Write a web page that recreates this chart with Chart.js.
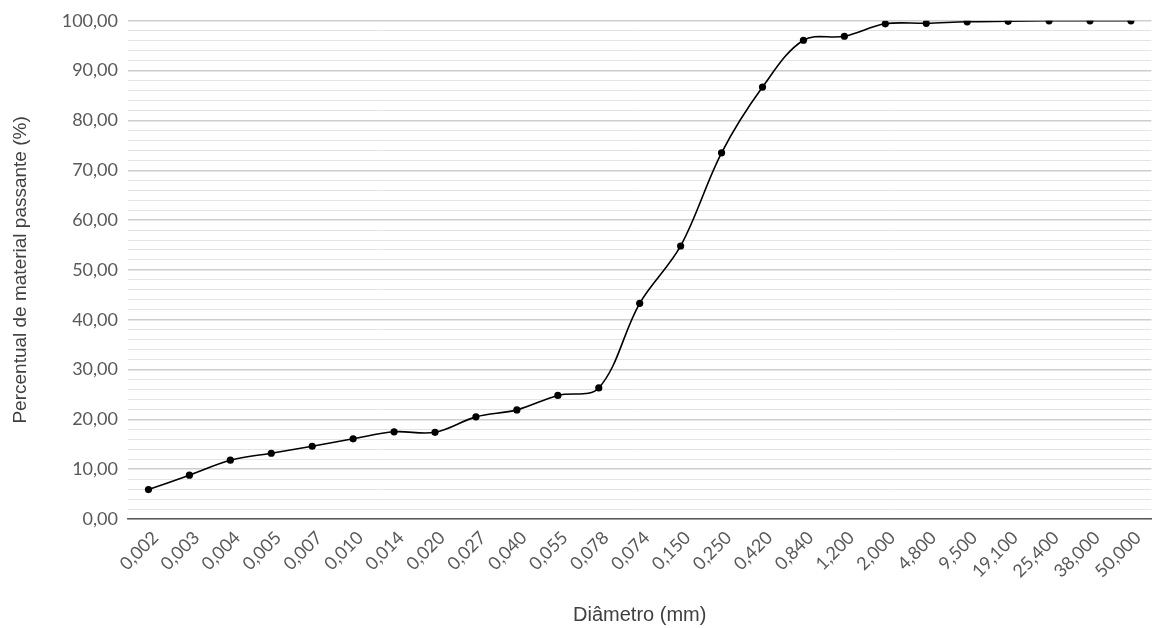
<!DOCTYPE html>
<html>
<head>
<meta charset="utf-8">
<script src="https://cdn.jsdelivr.net/npm/chart.js@4/dist/chart.umd.min.js"></script>
<style>
  html, body { margin: 0; padding: 0; background: #ffffff; }
  #wrap { width: 1155px; height: 628px; position: relative; }
</style>
</head>
<body>
<div id="wrap"><canvas id="curva"></canvas></div>
<script>
// Curva granulométrica: diâmetro da peneira x percentual passante
const diametros = [
  '0,002', '0,003', '0,004', '0,005', '0,007', '0,010', '0,014', '0,020',
  '0,027', '0,040', '0,055', '0,078', '0,074', '0,150', '0,250', '0,420',
  '0,840', '1,200', '2,000', '4,800', '9,500', '19,100', '25,400', '38,000', '50,000'
];
const passante = [
  5.9, 8.8, 11.8, 13.2, 14.6, 16.1, 17.5, 17.4,
  20.5, 21.9, 24.8, 26.3, 43.3, 54.8, 73.5, 86.7,
  96.1, 96.9, 99.4, 99.5, 99.8, 99.9, 100.0, 100.0, 100.0
];
const eixoY = { min: 0, max: 100, passo: 2, principal: 10 };
const tituloX = 'Diâmetro (mm)';
const tituloY = 'Percentual de material passante (%)';

const corTexto = '#595959';
const fonteRotulo = { family: 'Lato, "Open Sans", sans-serif', size: 18 };
const fonteTituloX = { family: '"Liberation Sans", Arial, sans-serif', size: 20 };
const fonteTituloY = { family: '"Liberation Sans", Arial, sans-serif', size: 19 };

const formatar = v => v.toFixed(2).replace('.', ',');
const ehPrincipal = c => c.tick && Math.round(c.tick.value) % eixoY.principal === 0;

new Chart(document.getElementById('curva'), {
  type: 'line',
  data: {
    labels: diametros,
    datasets: [{
      data: passante,
      borderColor: '#000000',
      backgroundColor: '#000000',
      borderWidth: 1.6,
      pointRadius: 3.6,
      pointHoverRadius: 3.6,
      pointBackgroundColor: '#000000',
      pointBorderWidth: 0,
      tension: 0.35,
      fill: false
    }]
  },
  options: {
    responsive: true,
    maintainAspectRatio: false,
    animation: false,
    layout: { padding: { top: 19, right: 2, left: 0, bottom: 0 } },
    plugins: {
      legend: { display: false },
      tooltip: { enabled: false }
    },
    scales: {
      x: {
        type: 'category',
        offset: true,
        grid: { display: false, drawTicks: false },
        border: { display: true, color: '#595959', width: 1.6 },
        ticks: {
          autoSkip: false,
          maxRotation: 45,
          minRotation: 45,
          padding: 8,
          labelOffset: 7,
          color: corTexto,
          font: fonteRotulo
        },
        title: {
          display: true,
          text: tituloX,
          color: '#404040',
          font: fonteTituloX,
          padding: { top: 0, bottom: 1 }
        },
        afterFit: s => { s.height = 109; }
      },
      y: {
        min: eixoY.min,
        max: eixoY.max,
        border: { display: false },
        grid: {
          drawTicks: false,
          color: c => ehPrincipal(c) ? '#cdcdcd' : '#e4e4e4',
          lineWidth: c => ehPrincipal(c) ? 1.4 : 1
        },
        ticks: {
          autoSkip: false,
          stepSize: eixoY.passo,
          padding: 10,
          color: corTexto,
          font: fonteRotulo,
          callback: v => (Math.round(v) % eixoY.principal === 0) ? formatar(v) : ''
        },
        title: {
          display: true,
          text: tituloY,
          color: '#404040',
          font: fonteTituloY,
          padding: { top: 9, bottom: 0 }
        },
        afterFit: s => { s.width = 128; }
      }
    }
  }
});
</script>
</body>
</html>
